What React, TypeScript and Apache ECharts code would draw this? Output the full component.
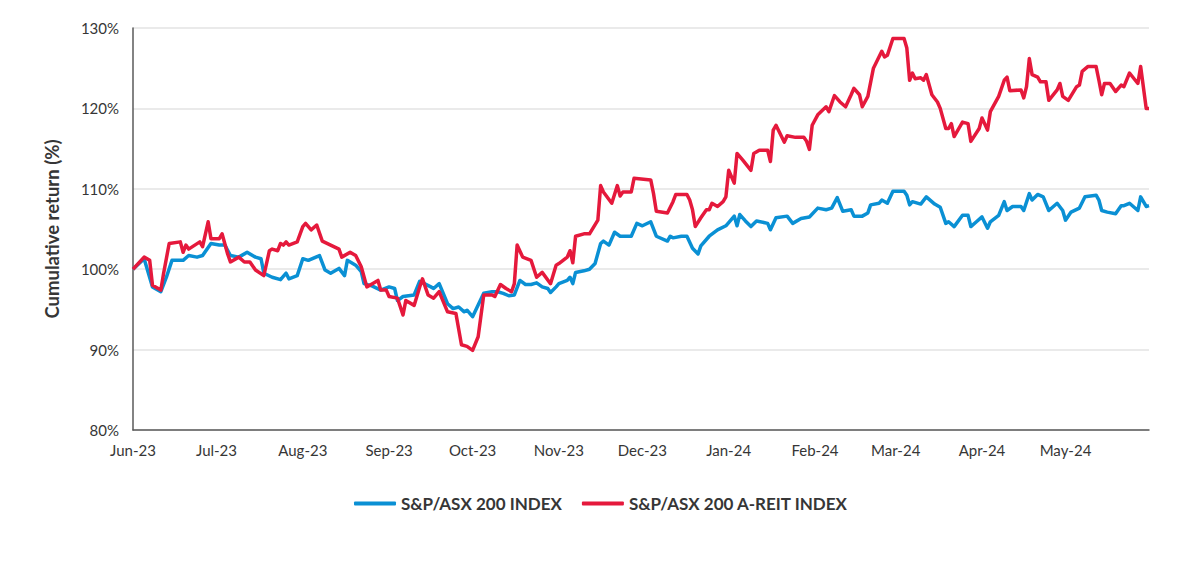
import React, { useEffect, useRef } from "react";
import * as echarts from "echarts";

// Days since 1 Jun 2023 (calendar days) and cumulative return (%)
const asxDays = [0,4,7,10,12,14,18,20,23,25,28,31,33,35,38,41,44,46,47,50,53,55,56,59,61,63,67,69,71,74,76,77,80,82,83,86,89,92,94,95,97,101,103,107,108,110,113,115,117,119,120,122,126,129,131,133,135,137,139,141,143,145,147,149,150,152,153,156,157,158,159,162,164,166,168,169,171,173,175,179,181,183,186,188,192,193,194,197,199,201,203,204,207,210,213,214,216,217,218,220,222,224,228,229,231,235,237,240,243,246,249,251,253,255,258,259,262,264,265,268,269,271,273,277,278,279,280,283,285,288,290,292,293,295,298,300,301,303,305,307,308,311,313,314,316,319,320,322,323,325,327,329,332,334,335,337,340,342,346,347,348,350,353,355,356,358,361,362,364,365];
const asxValues = [100.0,101.3,97.8,97.2,99.0,101.1,101.1,101.7,101.5,101.7,103.2,103.0,103.0,101.7,101.5,102.1,101.5,101.3,99.5,99.0,98.7,99.5,98.8,99.2,101.3,101.1,101.7,99.9,99.5,100.1,99.2,101.1,100.5,99.7,98.2,97.9,97.4,97.8,97.6,96.1,96.6,96.8,98.5,97.8,97.6,98.2,95.7,95.1,95.3,94.7,94.9,94.1,97.0,97.2,97.2,97.0,96.7,96.8,98.6,98.1,98.1,98.3,97.8,97.6,97.1,97.8,98.2,98.6,99.0,98.2,99.6,99.8,100.0,100.7,103.2,103.5,103.0,104.6,104.1,104.1,105.7,105.4,105.9,104.1,103.5,104.1,103.9,104.1,104.1,102.6,101.9,102.9,104.1,104.9,105.4,105.8,106.6,105.4,106.8,106.0,105.3,106.0,105.7,104.9,106.4,106.6,105.7,106.3,106.5,107.6,107.4,107.6,108.9,107.2,107.4,106.6,106.6,107.0,108.0,108.2,108.6,108.2,109.7,109.7,109.2,108.0,108.4,108.1,109.0,108.1,107.7,105.7,105.9,105.3,106.7,106.7,105.3,105.9,106.5,105.1,105.9,106.7,108.4,107.3,107.8,107.8,107.3,109.4,108.6,109.3,109.0,107.3,108.2,107.3,106.1,107.1,107.6,109.0,109.2,108.6,107.3,107.1,106.9,107.9,107.9,108.2,107.3,109.0,107.8,107.9];

const reitDays = [0,4,6,7,10,11,13,17,18,19,20,24,25,27,28,31,32,34,35,38,40,42,44,47,49,50,52,53,54,55,56,59,61,62,64,66,68,71,74,75,78,80,82,84,86,88,89,91,92,95,97,98,101,103,104,106,108,110,113,116,118,120,122,124,126,129,130,132,134,136,137,138,140,143,145,147,150,152,153,156,157,158,159,162,164,167,168,169,172,174,175,176,179,180,186,187,188,192,194,195,199,200,201,202,204,206,207,208,210,212,213,214,216,217,219,222,223,225,228,229,230,231,234,235,238,241,242,243,244,246,249,250,252,254,256,258,259,261,262,264,266,269,270,271,273,277,278,279,280,281,283,284,285,287,289,290,292,293,294,295,298,300,301,304,305,307,308,311,313,314,315,319,320,321,322,323,325,326,328,329,332,333,334,336,339,340,341,343,346,347,348,349,351,353,355,356,358,361,362,364,365];
const reitValues = [100.0,101.5,101.1,98.0,97.4,99.5,103.2,103.4,102.1,103.0,102.5,103.4,102.8,105.9,103.8,103.8,104.4,101.9,100.9,101.5,100.9,100.9,99.9,99.2,102.3,102.5,102.3,103.2,103.0,103.4,103.0,103.4,105.3,105.7,104.9,105.5,103.5,103.0,102.5,101.5,102.1,101.7,100.3,97.8,98.2,98.6,97.4,97.4,96.6,96.4,94.3,96.1,95.5,97.8,98.8,96.8,96.4,97.2,94.7,94.5,90.6,90.4,89.9,91.6,96.8,96.8,96.6,98.1,97.6,97.2,98.2,103.0,101.5,101.1,99.0,99.6,98.2,100.5,100.7,101.5,102.3,100.8,104.1,104.4,104.4,106.1,110.4,109.6,108.2,110.4,109.1,109.6,109.6,111.3,111.1,109.4,107.2,107.0,108.4,109.3,109.3,108.6,107.4,105.3,106.4,107.4,107.4,108.2,107.8,108.4,109.0,112.3,110.7,114.4,113.6,112.3,114.4,114.8,114.8,113.4,117.3,117.9,115.8,116.6,116.4,116.4,115.9,114.9,117.9,119.2,120.2,119.6,121.6,120.8,120.2,121.7,122.5,121.7,120.2,121.5,125.0,127.1,126.4,126.6,128.7,128.7,127.5,123.5,124.4,123.7,123.8,123.5,124.2,121.7,120.8,120.0,117.5,117.5,118.1,116.5,118.3,118.1,115.9,117.5,118.8,117.3,119.6,121.5,123.5,123.9,122.2,122.3,121.3,122.7,126.2,124.2,123.9,123.3,123.3,121.0,122.3,123.1,121.5,121.0,122.7,122.9,124.6,125.2,125.2,123.5,121.7,123.1,123.1,122.1,122.9,122.7,124.4,123.1,125.2,120.0,120.0];

const seriesNames = ["S&P/ASX 200 INDEX", "S&P/ASX 200 A-REIT INDEX"];
const seriesColors = ["#0a90d4", "#e5193c"];
const monthNames = ["Jan","Feb","Mar","Apr","May","Jun","Jul","Aug","Sep","Oct","Nov","Dec"];
const yMin = 80;
const yMax = 130;
const yStep = 10;

const FONT = "Lato, 'Open Sans', sans-serif";
const TEXT = "#363636";

export default function App() {
  const ref = useRef<HTMLDivElement>(null);
  useEffect(() => {
    if (!ref.current) return;
    const chart = echarts.init(ref.current, undefined, { renderer: "svg" });
    const categories: string[] = [];
    for (let i = 0; i <= 365; i++) {
      const d = new Date(2023, 5, 1 + i);
      categories.push(
        d.getFullYear() + "-" + String(d.getMonth() + 1).padStart(2, "0") + "-" + String(d.getDate()).padStart(2, "0")
      );
    }
    const build = (days: number[], vals: number[]) => {
      const arr: (number | null)[] = new Array(categories.length).fill(null);
      days.forEach((d, i) => (arr[d] = vals[i]));
      return arr;
    };
    chart.setOption({
      animation: false,
      textStyle: { fontFamily: FONT },
      grid: { left: 133, right: 40, top: 28, bottom: 146, containLabel: false },
      xAxis: {
        type: "category",
        data: categories,
        boundaryGap: false,
        axisLine: { show: true, lineStyle: { color: "#5a5a5a", width: 1.5 } },
        axisTick: { show: false },
        splitLine: { show: false },
        axisLabel: {
          interval: (_i: number, v: string) => v.endsWith("-01"),
          formatter: (v: string) => {
            const [y, m] = v.split("-");
            return monthNames[parseInt(m, 10) - 1] + "-" + y.slice(2);
          },
          color: TEXT,
          fontSize: 15,
          fontFamily: FONT,
          margin: 12,
        },
      },
      yAxis: {
        type: "value",
        min: yMin,
        max: yMax,
        interval: yStep,
        name: "Cumulative return (%)",
        nameLocation: "middle",
        nameGap: 72,
        nameTextStyle: { color: TEXT, fontSize: 18.5, fontWeight: "bold", fontFamily: FONT },
        axisLine: { show: true, lineStyle: { color: "#5a5a5a", width: 1.5 } },
        axisTick: { show: false },
        splitLine: { show: true, lineStyle: { color: "#e3e3e3", width: 1.5 } },
        axisLabel: {
          formatter: (v: number) => v + "%",
          color: TEXT,
          fontSize: 15,
          fontFamily: FONT,
          margin: 14,
        },
      },
      legend: {
        bottom: 59,
        left: 349,
        itemWidth: 42,
        itemHeight: 4,
        itemGap: 20,
        icon: "roundRect",
        textStyle: { color: TEXT, fontSize: 17, fontWeight: "bold", fontFamily: FONT },
        data: seriesNames,
      },
      series: [
        {
          name: seriesNames[0],
          type: "line",
          data: build(asxDays, asxValues),
          connectNulls: true,
          showSymbol: false,
          symbol: "none",
          color: seriesColors[0],
          lineStyle: { width: 3.5, color: seriesColors[0], join: "round" },
        },
        {
          name: seriesNames[1],
          type: "line",
          data: build(reitDays, reitValues),
          connectNulls: true,
          showSymbol: false,
          symbol: "none",
          color: seriesColors[1],
          lineStyle: { width: 3.5, color: seriesColors[1], join: "round" },
        },
      ],
    });
    return () => chart.dispose();
  }, []);
  return <div ref={ref} style={{ position: "absolute", left: 0, top: 0, width: 1189, height: 576 }} />;
}
